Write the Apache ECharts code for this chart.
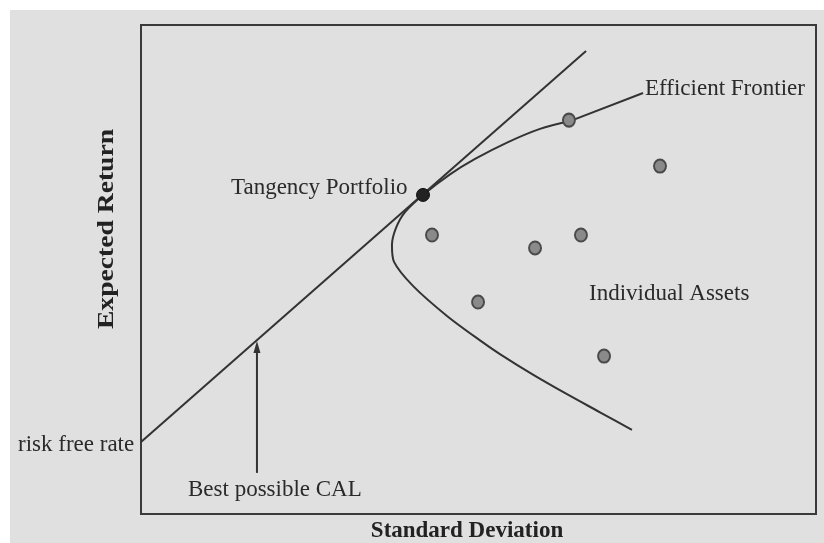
<!DOCTYPE html>
<html>
<head>
<meta charset="utf-8">
<script src="https://cdn.jsdelivr.net/npm/echarts@6/dist/echarts.min.js"></script>
<style>
html,body{margin:0;padding:0;background:#ffffff;}
#chart{width:824px;height:543px;}
</style>
</head>
<body>
<div id="chart"></div>
<script>
// Standard deviation (x) and expected return (y)
const frontierX = [28.6, 26.6, 24.4, 22.27, 20.6, 18.8, 17.6, 17.0, 16.73, 16.87, 18.13, 20.4, 22.6, 23.93, 26.13, 28.4, 30.6, 32.73];
const frontierY = [16.07, 15.75, 15.19, 14.52, 13.89, 13.05, 12.35, 11.70, 11.0, 10.31, 9.33, 8.1, 7.10, 6.54, 5.70, 4.90, 4.16, 3.44];
const leaderX = [28.6, 33.47];
const leaderY = [16.07, 17.22];
const calX = [0, 29.67];
const calY = [2.94, 18.94];
const assetX = [28.53, 34.6, 19.4, 26.27, 29.33, 22.47, 30.87];
const assetY = [16.11, 14.23, 11.41, 10.88, 11.41, 8.67, 6.46];
const tangencyX = [18.8];
const tangencyY = [13.05];
const arrowX = [7.73, 7.73];
const arrowY = [1.68, 6.91];

const zip = (a, b) => a.map((v, i) => [v, b[i]]);
const font = 'Liberation Serif';
const lbl = '23px "Liberation Serif"';

const chart = echarts.init(document.getElementById('chart'));
chart.setOption({
  animation: false,
  backgroundColor: '#ffffff',
  grid: { left: 141, top: 25, width: 675, height: 489, outerBoundsMode: 'none', containLabel: false,
          show: true, borderColor: '#3a3a3a', borderWidth: 2, backgroundColor: 'transparent' },
  xAxis: {
    type: 'value', min: 0, max: 45,
    name: 'Standard Deviation', nameLocation: 'middle', nameGap: 6,
    nameTextStyle: { fontFamily: font, fontWeight: 'bold', fontSize: 23, color: '#222', verticalAlign: 'top', padding: [0, 23, 0, 0] },
    axisLine: { show: false }, axisTick: { show: false }, axisLabel: { show: false }, splitLine: { show: false }
  },
  yAxis: {
    type: 'value', min: 0, max: 20,
    axisLine: { show: false }, axisTick: { show: false }, axisLabel: { show: false }, splitLine: { show: false }
  },
  graphic: [
    { type: 'rect', z: -10, shape: { x: 10, y: 10, width: 824, height: 543 }, style: { fill: '#e0e0e0' } },
    { type: 'text', x: 107, y: 229, rotation: Math.PI / 2, scaleX: 1.15,
      style: { text: 'Expected Return', font: 'bold 24px "Liberation Serif"', fill: '#222', align: 'center', verticalAlign: 'middle' } },
    { type: 'text', x: 231, y: 188, style: { text: 'Tangency Portfolio', font: lbl, fill: '#2a2a2a', verticalAlign: 'middle' } },
    { type: 'text', x: 645, y: 89, style: { text: 'Efficient Frontier', font: lbl, fill: '#2a2a2a', verticalAlign: 'middle' } },
    { type: 'text', x: 589, y: 294, style: { text: 'Individual Assets', font: lbl, fill: '#2a2a2a', verticalAlign: 'middle' } },
    { type: 'text', x: 18, y: 445, style: { text: 'risk free rate', font: lbl, fill: '#2a2a2a', verticalAlign: 'middle' } },
    { type: 'text', x: 188, y: 490, style: { text: 'Best possible CAL', font: lbl, fill: '#2a2a2a', verticalAlign: 'middle' } }
  ],
  series: [
    {
      type: 'line', data: zip(calX, calY), symbol: 'none',
      lineStyle: { color: '#333', width: 2 }, z: 2
    },
    {
      type: 'line', data: zip(frontierX, frontierY), symbol: 'none', smooth: 0.3,
      lineStyle: { color: '#333', width: 2 }, z: 2
    },
    {
      type: 'line', data: zip(leaderX, leaderY), symbol: 'none',
      lineStyle: { color: '#333', width: 2 }, z: 2
    },
    {
      type: 'line',
      data: [
        { value: [arrowX[0], arrowY[0]], symbol: 'none' },
        { value: [arrowX[1], arrowY[1]], symbol: 'triangle', symbolSize: [7, 12], symbolOffset: [0, 2] }
      ],
      lineStyle: { color: '#333', width: 2 }, itemStyle: { color: '#333' }, z: 2
    },
    {
      type: 'scatter', data: zip(assetX, assetY), symbol: 'circle', symbolSize: [12, 13],
      itemStyle: { color: '#8a8a8a', borderColor: '#4a4a4a', borderWidth: 2, opacity: 1 }, z: 3
    },
    {
      type: 'scatter', data: zip(tangencyX, tangencyY), symbol: 'circle', symbolSize: 13,
      itemStyle: { color: '#222', borderColor: '#111', borderWidth: 1, opacity: 1 }, z: 4
    }
  ]
});
</script>
</body>
</html>
